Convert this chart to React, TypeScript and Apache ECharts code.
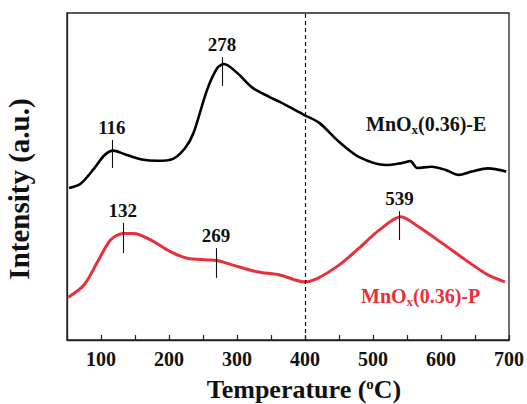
import React, { useEffect, useRef } from "react";
import * as echarts from "echarts";

const tempE = [53, 70, 90, 105, 118, 135, 160, 183, 206, 224, 236, 256, 271, 281, 300, 323, 348, 363, 399, 421, 450, 479, 519, 542, 555, 565, 586, 607, 626, 645, 669, 696];
const intensityE = [46.5, 47.8, 52.5, 56.5, 57.9, 56.8, 55.2, 54.8, 55.4, 58.8, 63.3, 76.5, 83.2, 84.4, 81.7, 77.1, 74.3, 72.8, 68.8, 66.4, 60.6, 56.0, 53.5, 54.1, 54.7, 52.6, 53.0, 52.0, 50.5, 51.5, 52.5, 51.5];

const tempP = [52, 75, 95, 114, 133, 148, 173, 202, 227, 256, 271, 294, 329, 363, 399, 417, 450, 479, 509, 541, 567, 601, 636, 669, 694];
const intensityP = [13.1, 16.8, 23.9, 30.6, 32.6, 32.6, 30.6, 27.0, 25.0, 24.5, 24.3, 22.9, 20.9, 19.9, 17.8, 18.7, 22.9, 28.0, 33.6, 37.7, 34.6, 29.7, 24.5, 19.9, 17.8];

const peakTempsE = [116, 278];
const peakLowE = [52.6, 77.7];
const peakHighE = [61.2, 86.5];
const peakTempsP = [132, 269, 539];
const peakLowP = [26.6, 19.0, 30.6];
const peakHighP = [35.8, 28.1, 39.4];

const xTicks = [100, 200, 300, 400, 500, 600, 700];
const dashedAt = 400;

const RED = "#e8303a";
const FONT = "'Liberation Serif', 'Times New Roman', serif";

function peakLines(temps: number[], lo: number[], hi: number[]) {
  return temps.map((t, i) => [
    { coord: [t, lo[i]], name: String(t) },
    { coord: [t, hi[i]] },
  ]);
}

export default function App() {
  const ref = useRef<HTMLDivElement>(null);
  useEffect(() => {
    if (!ref.current) return;
    const chart = echarts.init(ref.current, undefined, { renderer: "svg" });
    const peakLabel = {
      show: true,
      position: "end",
      formatter: "{b}",
      color: "#111",
      fontFamily: FONT,
      fontWeight: "bold",
      fontSize: 19,
      distance: 3,
    };
    chart.setOption({
      animation: false,
      grid: { left: 67, right: 16, top: 13, bottom: 64, show: true, borderColor: "#222", borderWidth: 1.3 },
      xAxis: {
        type: "value",
        min: 50,
        max: 700,
        interval: 50,
        axisLine: { lineStyle: { color: "#222", width: 1.3 } },
        axisTick: { inside: true, length: 5, lineStyle: { color: "#222", width: 1.2 } },
        splitLine: { show: false },
        axisLabel: {
          formatter: (v: number) => (xTicks.includes(v) ? String(v) : ""),
          color: "#111",
          fontFamily: FONT,
          fontWeight: "bold",
          fontSize: 20,
          margin: 9,
        },
      },
      yAxis: {
        type: "value",
        min: 0,
        max: 100,
        axisLine: { show: true, lineStyle: { color: "#222", width: 1.3 } },
        axisTick: { show: false },
        axisLabel: { show: false },
        splitLine: { show: false },
      },
      series: [
        {
          type: "line",
          data: tempE.map((t, i) => [t, intensityE[i]]),
          smooth: 0.3,
          showSymbol: false,
          lineStyle: { color: "#000", width: 2.6 },
          markLine: {
            silent: true,
            symbol: ["none", "none"],
            lineStyle: { color: "#111", width: 1.1, type: "solid" },
            label: peakLabel,
            data: [
              ...peakLines(peakTempsE, peakLowE, peakHighE),
              {
                xAxis: dashedAt,
                label: { show: false },
                lineStyle: { type: [4, 3], color: "#111", width: 1.2 },
              },
            ],
          },
        },
        {
          type: "line",
          data: tempP.map((t, i) => [t, intensityP[i]]),
          smooth: 0.3,
          showSymbol: false,
          lineStyle: { color: RED, width: 3 },
          markLine: {
            silent: true,
            symbol: ["none", "none"],
            lineStyle: { color: "#111", width: 1.1, type: "solid" },
            label: peakLabel,
            data: peakLines(peakTempsP, peakLowP, peakHighP),
          },
        },
      ],
      graphic: [
        {
          type: "text",
          x: 19,
          y: 189,
          rotation: Math.PI / 2,
          style: {
            text: "Intensity (a.u.)",
            fill: "#111",
            font: `bold 29px ${FONT}`,
            align: "center",
            verticalAlign: "middle",
          },
        },
        {
          type: "text",
          x: 304,
          y: 389,
          style: {
            text: "Temperature ({sup|o}C)",
            fill: "#111",
            font: `bold 26px ${FONT}`,
            align: "center",
            verticalAlign: "middle",
            rich: {
              sup: { fontFamily: FONT, fontWeight: "bold", fontSize: 15, fill: "#111", padding: [0, 0, 11, 0] },
            },
          },
        },
        {
          type: "text",
          x: 366,
          y: 124,
          style: {
            text: "MnO{sub|x}(0.36)-E",
            fill: "#111",
            font: `bold 20px ${FONT}`,
            verticalAlign: "middle",
            rich: {
              sub: { fontFamily: FONT, fontWeight: "bold", fontSize: 13, fill: "#111", padding: [11, 0, 0, 0] },
            },
          },
        },
        {
          type: "text",
          x: 361,
          y: 296,
          style: {
            text: "MnO{sub|x}(0.36)-P",
            fill: RED,
            font: `bold 20px ${FONT}`,
            verticalAlign: "middle",
            rich: {
              sub: { fontFamily: FONT, fontWeight: "bold", fontSize: 13, fill: RED, padding: [11, 0, 0, 0] },
            },
          },
        },
      ],
    });
    return () => chart.dispose();
  }, []);
  return <div ref={ref} style={{ width: 527, height: 404, position: "absolute", left: 0, top: 0 }} />;
}
